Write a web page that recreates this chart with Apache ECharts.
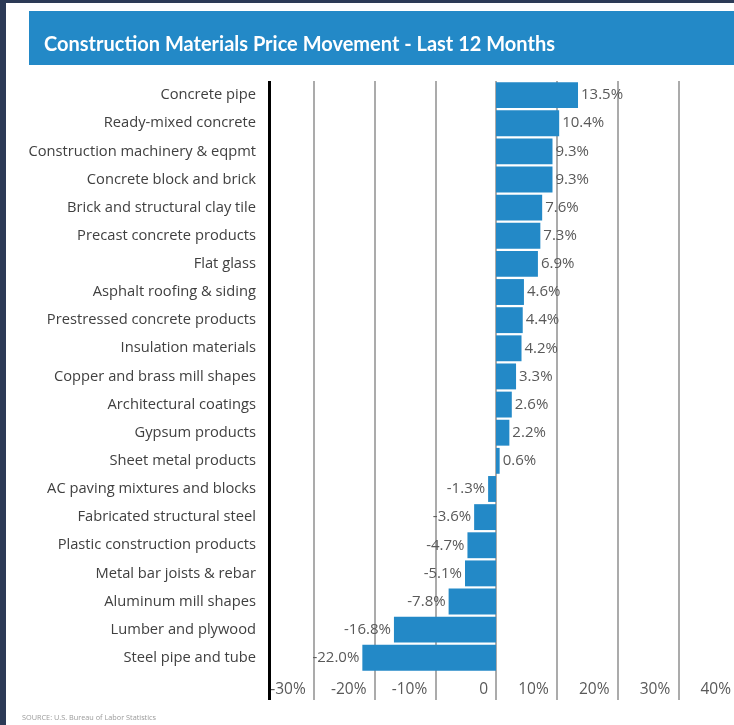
<!DOCTYPE html>
<html>
<head>
<meta charset="utf-8">
<script src="https://cdn.jsdelivr.net/npm/echarts@6/dist/echarts.min.js"></script>
<style>
  html, body { margin: 0; padding: 0; width: 734px; height: 725px; overflow: hidden; background: #2c3a56; }
  #card { position: absolute; left: 6px; top: 3px; right: 0; bottom: 0; background: #ffffff; }
  #chart { position: absolute; left: 0; top: 0; width: 750px; height: 725px; }
</style>
</head>
<body>
<div id="card"></div>
<div id="chart"></div>
<script>
const categories = [
  'Concrete pipe',
  'Ready-mixed concrete',
  'Construction machinery & eqpmt',
  'Concrete block and brick',
  'Brick and structural clay tile',
  'Precast concrete products',
  'Flat glass',
  'Asphalt roofing & siding',
  'Prestressed concrete products',
  'Insulation materials',
  'Copper and brass mill shapes',
  'Architectural coatings',
  'Gypsum products',
  'Sheet metal products',
  'AC paving mixtures and blocks',
  'Fabricated structural steel',
  'Plastic construction products',
  'Metal bar joists & rebar',
  'Aluminum mill shapes',
  'Lumber and plywood',
  'Steel pipe and tube'
];
const changePct = [13.5, 10.4, 9.3, 9.3, 7.6, 7.3, 6.9, 4.6, 4.4, 4.2, 3.3, 2.6, 2.2, 0.6,
  -1.3, -3.6, -4.7, -5.1, -7.8, -16.8, -22.0];
const tickValues = [-30, -20, -10, 0, 10, 20, 30, 40];
const titleText = 'Construction Materials Price Movement - Last 12 Months';
const sourceText = 'SOURCE: U.S. Bureau of Labor Statistics';

const chart = echarts.init(document.getElementById('chart'), null, { renderer: 'canvas' });

const barData = changePct.map(v => ({
  value: v,
  label: {
    show: true,
    position: v >= 0 ? 'right' : 'left',
    distance: 3,
    formatter: v.toFixed(1) + '%'
  }
}));

const gridColors = ['rgba(0,0,0,0)'].concat(tickValues.map(() => '#8f8f8f'));

chart.setOption({
  animation: false,
  backgroundColor: 'transparent',
  textStyle: { fontFamily: 'Open Sans' },
  graphic: [{
    type: 'rect',
    z: 0,
    shape: { x: 29, y: 11, width: 721, height: 54 },
    style: { fill: '#2389c7' }
  }],
  title: [{
    text: titleText,
    left: 44,
    top: 35,
    padding: 0,
    z: 10,
    textStyle: { color: '#ffffff', fontFamily: 'Lato', fontWeight: 'bold', fontSize: 20 }
  }, {
    text: sourceText,
    left: 22,
    top: 714,
    padding: 0,
    textStyle: { color: '#9a9a9a', fontFamily: 'Open Sans', fontWeight: 'normal', fontSize: 7.3 }
  }],
  grid: { left: 253, top: 81, width: 486, height: 619, containLabel: false },
  xAxis: {
    type: 'value',
    min: -40,
    max: 40,
    interval: 10,
    axisLine: { show: false },
    axisTick: { show: false },
    splitLine: { show: true, lineStyle: { color: gridColors, width: 1.5 } },
    axisLabel: {
      showMinLabel: true,
      showMaxLabel: true,
      align: 'right',
      verticalAlign: 'middle',
      margin: -10,
      padding: [0, 8, 0, 0],
      color: '#595959',
      fontSize: 15.5,
      fontFamily: 'Open Sans',
      formatter: v => (tickValues.indexOf(v) < 0 ? '' : (v === 0 ? '0' : v + '%'))
    }
  },
  yAxis: {
    type: 'category',
    data: categories,
    inverse: true,
    max: categories.length,
    axisLine: { show: false },
    axisTick: { show: false },
    splitLine: { show: false },
    axisLabel: {
      margin: -3,
      color: '#404040',
      fontSize: 14.7,
      fontFamily: 'Open Sans',
      padding: [3, 0, 0, 0],
      formatter: v => v || ''
    }
  },
  series: [{
    type: 'bar',
    data: barData,
    barCategoryGap: '8%',
    itemStyle: { color: '#2389c7' },
    label: { color: '#595959', fontSize: 15, fontFamily: 'Open Sans' },
    markLine: {
      silent: true,
      symbol: 'none',
      label: { show: false },
      lineStyle: { color: '#000000', width: 3, type: 'solid' },
      data: [{ xAxis: -37.4 }]
    }
  }]
});
</script>
</body>
</html>
